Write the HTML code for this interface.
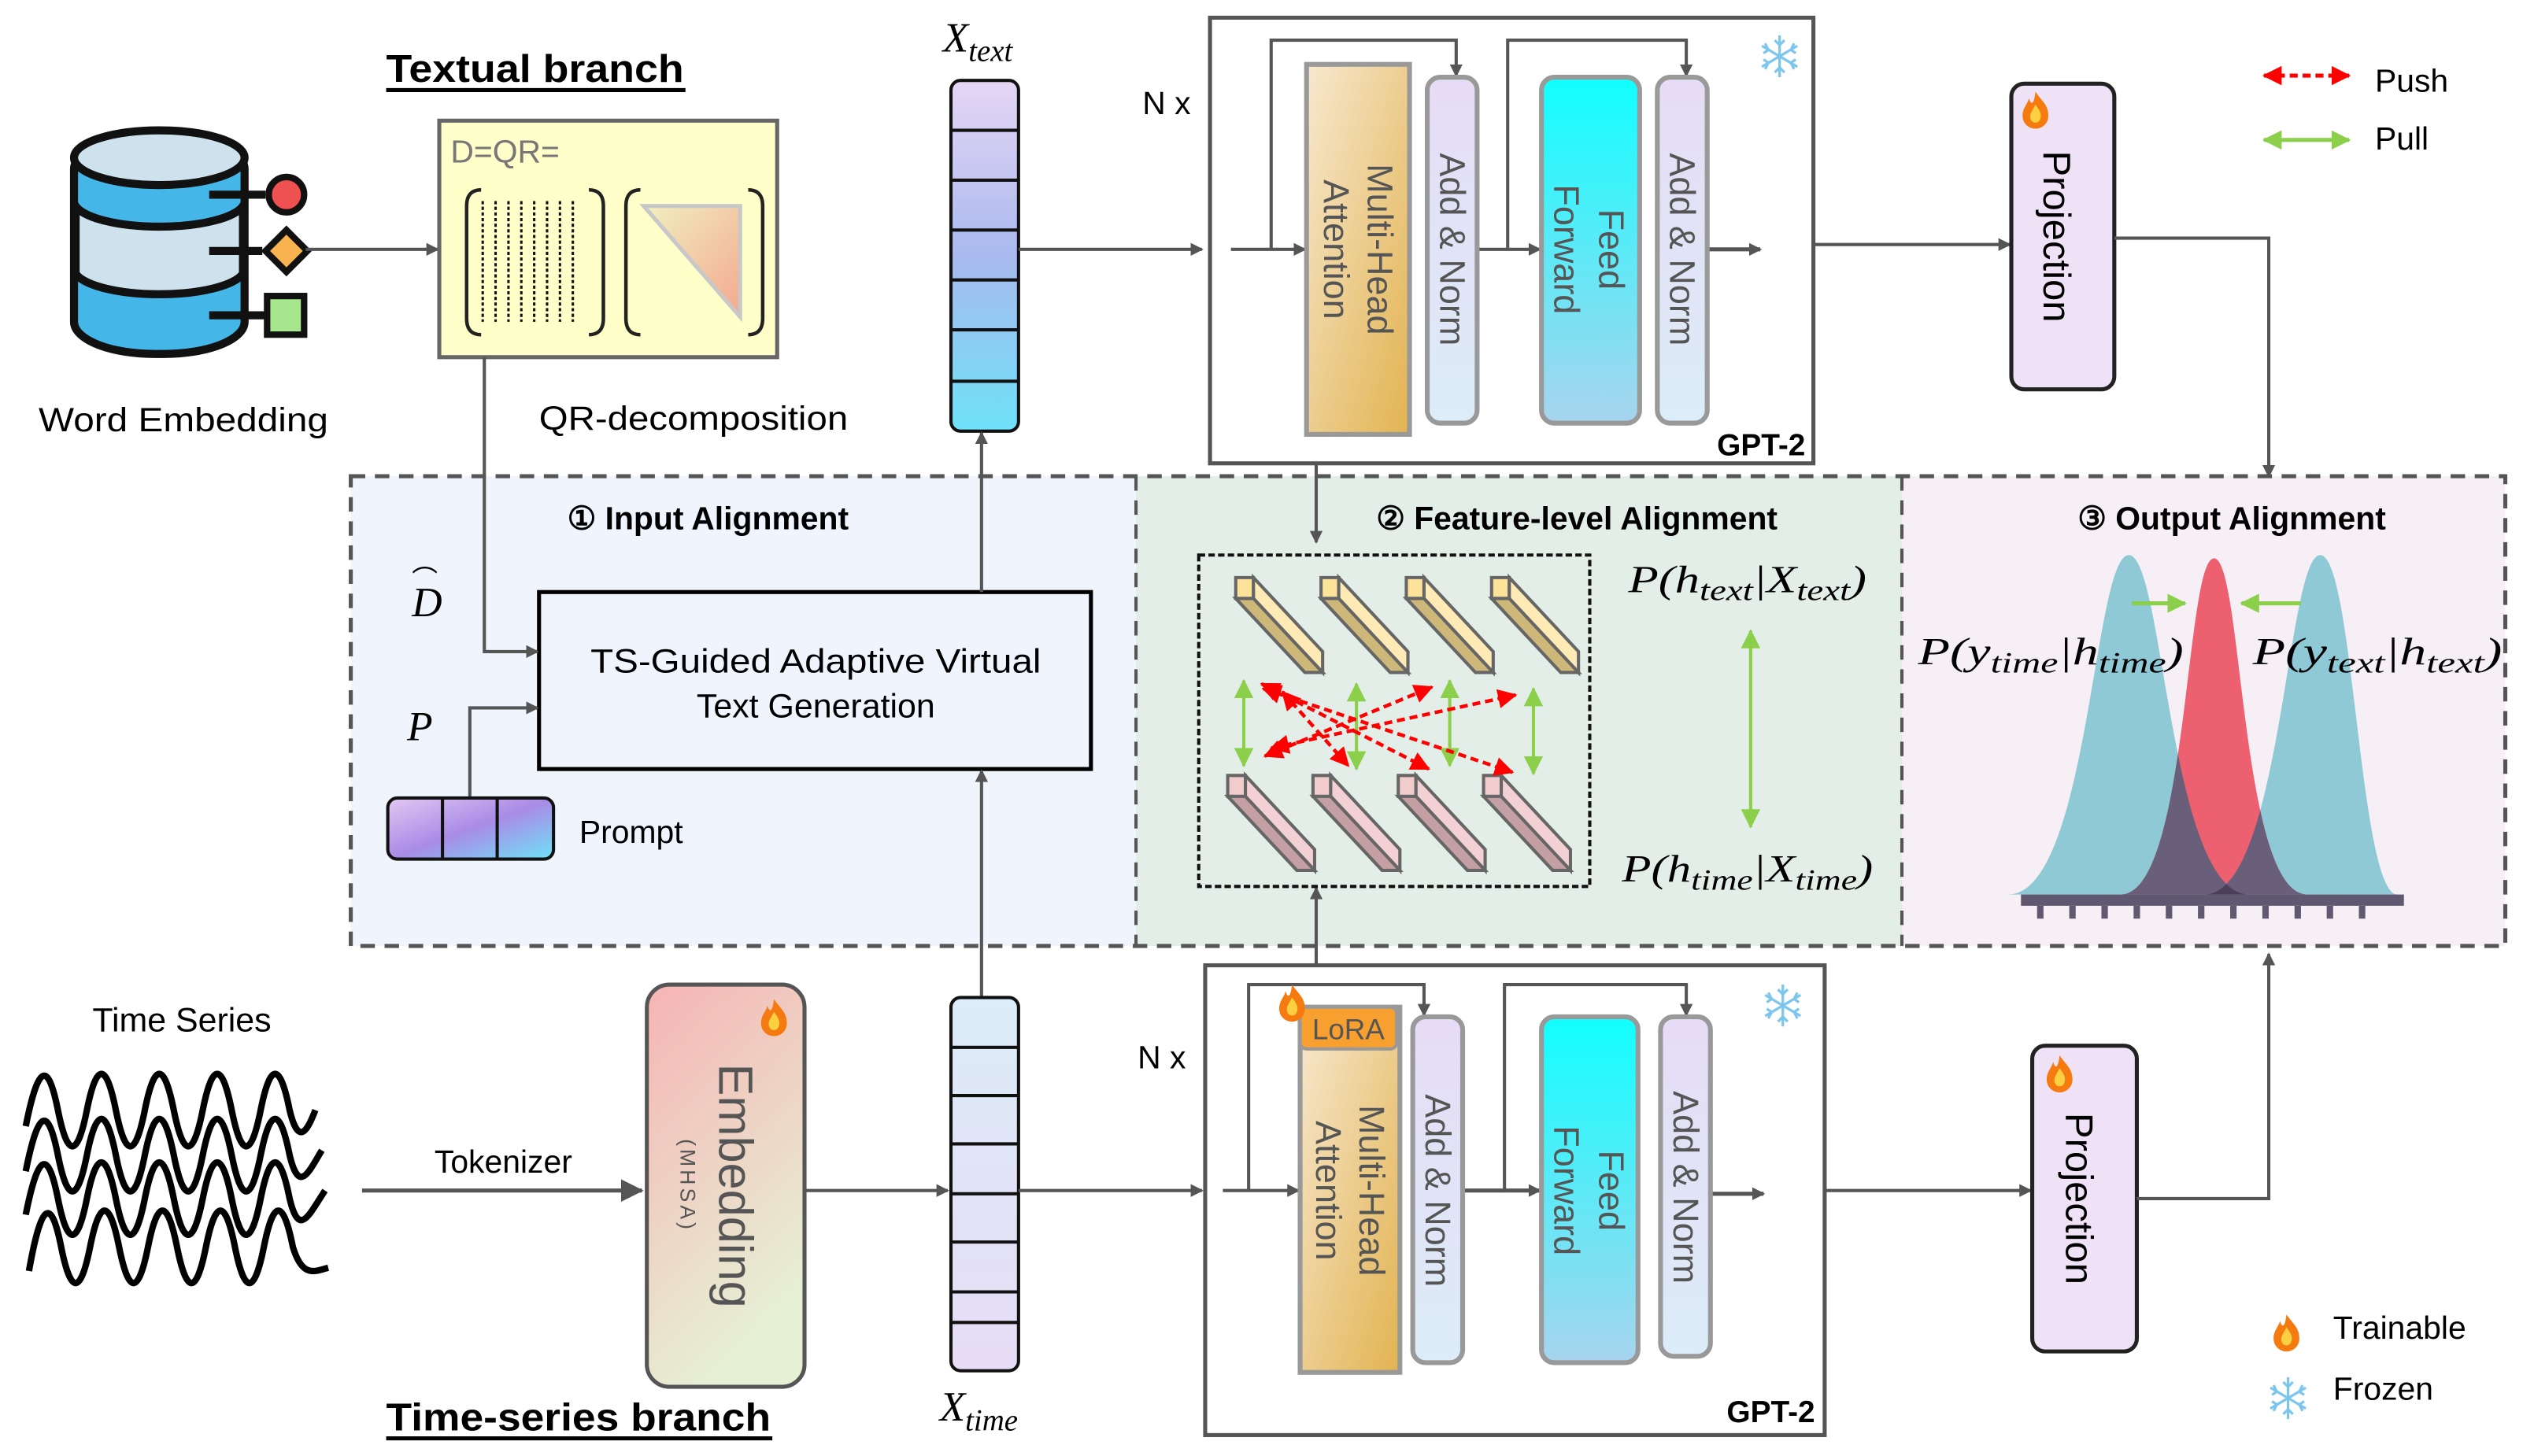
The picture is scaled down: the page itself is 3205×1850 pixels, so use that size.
<!DOCTYPE html>
<html><head><meta charset="utf-8"><style>
html,body{margin:0;padding:0;background:#fff;}
svg{display:block;}
text{font-family:"Liberation Sans",sans-serif;}
.m{font-family:"Liberation Serif",serif;font-style:italic;}
</style></head><body>
<svg width="3205" height="1850" viewBox="0 0 1568 905" preserveAspectRatio="none" xmlns="http://www.w3.org/2000/svg">
<defs>
<marker id="a" markerWidth="8" markerHeight="8" refX="7" refY="4" orient="auto" markerUnits="userSpaceOnUse"><path d="M0,0 L8,4 L0,8 Z" fill="#555"/></marker>
<marker id="ab" markerWidth="14" markerHeight="14" refX="13" refY="7" orient="auto" markerUnits="userSpaceOnUse"><path d="M0,0 L14,7 L0,14 Z" fill="#555"/></marker>
<marker id="g" markerWidth="12" markerHeight="12" refX="11" refY="6" orient="auto-start-reverse" markerUnits="userSpaceOnUse"><path d="M0,0 L12,6 L0,12 Z" fill="#8ccf4a"/></marker>
<marker id="r" markerWidth="12" markerHeight="12" refX="11" refY="6" orient="auto-start-reverse" markerUnits="userSpaceOnUse"><path d="M0,0 L12,6 L0,12 Z" fill="#f00"/></marker>
<linearGradient id="vt" x1="0" y1="0" x2="0" y2="1"><stop offset="0" stop-color="#e6d6f5"/><stop offset="0.5" stop-color="#a9b9ee"/><stop offset="1" stop-color="#6ee2f8"/></linearGradient>
<linearGradient id="vb" x1="0" y1="0" x2="0" y2="1"><stop offset="0" stop-color="#dcecf8"/><stop offset="1" stop-color="#e6dcf5"/></linearGradient>
<linearGradient id="mha" x1="0" y1="0" x2="1" y2="1"><stop offset="0" stop-color="#f7e8cf"/><stop offset="1" stop-color="#e2b350"/></linearGradient>
<linearGradient id="an" x1="0" y1="0" x2="0" y2="1"><stop offset="0" stop-color="#e6dcf5"/><stop offset="1" stop-color="#dcecf8"/></linearGradient>
<linearGradient id="ff" x1="0" y1="0" x2="0" y2="1"><stop offset="0" stop-color="#10ffff"/><stop offset="1" stop-color="#a8d4ee"/></linearGradient>
<linearGradient id="emb" x1="0" y1="0" x2="0.4" y2="1"><stop offset="0" stop-color="#f6b4b4"/><stop offset="1" stop-color="#e6f0d4"/></linearGradient>
<linearGradient id="pr" x1="0" y1="0" x2="1" y2="1"><stop offset="0" stop-color="#e2c8f2"/><stop offset="0.5" stop-color="#a98be6"/><stop offset="1" stop-color="#6ee2f8"/></linearGradient>
<linearGradient id="tri" x1="0" y1="0" x2="1" y2="1"><stop offset="0" stop-color="#f0f0c0"/><stop offset="1" stop-color="#f4a890"/></linearGradient>
<path id="gl" d="M1248,556 C1298,556 1301,345 1323,345 C1345,345 1348,556 1398,556Z"/>
<path id="gr" d="M1370,556 C1418,556 1421,345 1442,345 C1463,345 1466,556 1490,556Z"/>
<path id="gm" d="M1318,556 C1360,556 1358,347 1376,347 C1394,347 1392,556 1434,556Z"/>
<clipPath id="cl"><use href="#gl"/></clipPath>
<clipPath id="cr"><use href="#gr"/></clipPath>
<g id="fire"><path d="M0,-12 C4,-6 8,-4 8,3 C8,8 4,11 0,11 C-4,11 -8,8 -8,3 C-8,-2 -5,-4 -4,-8 C-3,-4 -1,-3 0,-12 Z" fill="#f57a10"/><path d="M0,-4 C3,0 4,2 3,5 C2,8 -2,8 -3,5 C-4,2 -2,0 0,-4Z" fill="#fcd040"/></g>
<g id="snow" stroke="#7cc6ee" stroke-width="1.6" fill="none"><line x1="0" y1="-13" x2="0" y2="13"/><line x1="-11" y1="-6.5" x2="11" y2="6.5"/><line x1="-11" y1="6.5" x2="11" y2="-6.5"/><path d="M-3,-10 L0,-7 L3,-10 M-3,10 L0,7 L3,10 M-10,-2 L-7,-4 L-9,-8 M10,2 L7,4 L9,8 M10,-2 L7,-4 L9,-8 M-10,2 L-7,4 L-9,8"/></g>
</defs>

<!-- panels -->
<rect x="218" y="296" width="488" height="292" fill="#eff4fd"/>
<rect x="706" y="296" width="476" height="292" fill="#e2eee7"/>
<rect x="1182" y="296" width="375" height="292" fill="#f6f0f6"/>
<rect x="218" y="296" width="1339" height="292" fill="none" stroke="#555" stroke-width="2.5" stroke-dasharray="9,6"/>
<line x1="706" y1="296" x2="706" y2="588" stroke="#555" stroke-width="2" stroke-dasharray="9,6"/>
<line x1="1182" y1="296" x2="1182" y2="588" stroke="#555" stroke-width="2" stroke-dasharray="9,6"/>

<!-- Textual branch -->
<text x="240" y="51" font-size="24" font-weight="bold" textLength="185" lengthAdjust="spacingAndGlyphs">Textual branch</text>
<line x1="240" y1="56" x2="426" y2="56" stroke="#000" stroke-width="2.5"/>
<g stroke="#111" stroke-width="5">
<rect x="46" y="85" width="106" height="135" rx="50" ry="20" fill="#44b7e8"/>
<path d="M47,128 A53,16 0 0 0 151,128 V170 A53,16 0 0 1 47,170Z" fill="#cde2ec"/>
<ellipse cx="99" cy="98" rx="53" ry="17" fill="#cde2ec"/>
<line x1="130" y1="121" x2="165" y2="121"/><line x1="130" y1="156" x2="163" y2="156"/><line x1="130" y1="196" x2="165" y2="196"/>
</g>
<circle cx="178" cy="121" r="11" fill="#ef5050" stroke="#111" stroke-width="4"/>
<path d="M178,143 L191,156 L178,169 L165,156Z" fill="#f8b250" stroke="#111" stroke-width="4"/>
<rect x="166" y="184" width="23" height="24" fill="#a6e68c" stroke="#111" stroke-width="4"/>
<text x="114" y="268" font-size="21" text-anchor="middle" textLength="180" lengthAdjust="spacingAndGlyphs">Word Embedding</text>
<line x1="190" y1="155" x2="272" y2="155" stroke="#555" stroke-width="2" marker-end="url(#a)"/>
<rect x="273" y="75" width="210" height="147" fill="#ffffca" stroke="#666" stroke-width="2.5"/>
<text x="280" y="101" font-size="20" fill="#777">D=QR=</text>
<g stroke="#222" stroke-width="2.2" fill="none">
<path d="M299,118 Q290,118 290,128 V198 Q290,208 299,208"/><path d="M366,118 Q375,118 375,128 V198 Q375,208 366,208"/>
<path d="M398,118 Q389,118 389,128 V198 Q389,208 398,208"/><path d="M465,118 Q474,118 474,128 V198 Q474,208 465,208"/>
</g>
<g stroke="#111" stroke-width="1.5" stroke-dasharray="2,1.5"><line x1="300" y1="125" x2="300" y2="200"/><line x1="308" y1="125" x2="308" y2="200"/><line x1="316" y1="125" x2="316" y2="200"/><line x1="324" y1="125" x2="324" y2="200"/><line x1="332" y1="125" x2="332" y2="200"/><line x1="340" y1="125" x2="340" y2="200"/><line x1="348" y1="125" x2="348" y2="200"/><line x1="356" y1="125" x2="356" y2="200"/></g>
<path d="M400,128 L460,128 L460,197 Z" fill="url(#tri)" stroke="#c8c8c8" stroke-width="2.5"/>
<text x="431" y="267" font-size="21" text-anchor="middle" textLength="192" lengthAdjust="spacingAndGlyphs">QR-decomposition</text>

<text x="586" y="32" class="m" font-size="26">X<tspan font-size="19" dy="6">text</tspan></text>
<rect x="591" y="50" width="42" height="218" rx="6" fill="url(#vt)" stroke="#111" stroke-width="2"/>
<g stroke="#111" stroke-width="2"><line x1="591" y1="81" x2="633" y2="81"/><line x1="591" y1="112" x2="633" y2="112"/><line x1="591" y1="143" x2="633" y2="143"/><line x1="591" y1="174" x2="633" y2="174"/><line x1="591" y1="205" x2="633" y2="205"/><line x1="591" y1="237" x2="633" y2="237"/></g>
<line x1="633" y1="155" x2="747" y2="155" stroke="#555" stroke-width="2" marker-end="url(#a)"/>
<text x="710" y="71" font-size="20">N x</text>

<!-- GPT top -->
<rect x="752" y="11" width="375" height="277" fill="#fff" stroke="#555" stroke-width="2.5"/>
<path d="M765,155 H811" stroke="#555" stroke-width="2" fill="none" marker-end="url(#a)"/>
<path d="M790,155 V25 H905 V47" stroke="#555" stroke-width="2" fill="none" marker-end="url(#a)"/>
<path d="M918,155 H957" stroke="#555" stroke-width="2" fill="none" marker-end="url(#a)"/>
<path d="M937,155 V25 H1048 V47" stroke="#555" stroke-width="2" fill="none" marker-end="url(#a)"/>
<path d="M1061,155 H1094" stroke="#555" stroke-width="2.5" fill="none" marker-end="url(#a)"/>
<rect x="812" y="40" width="64" height="230" fill="url(#mha)" stroke="#999" stroke-width="3"/>
<rect x="887" y="48" width="31" height="215" rx="8" fill="url(#an)" stroke="#999" stroke-width="3"/>
<rect x="958" y="48" width="61" height="215" rx="8" fill="url(#ff)" stroke="#999" stroke-width="3"/>
<rect x="1030" y="48" width="31" height="215" rx="8" fill="url(#an)" stroke="#999" stroke-width="3"/>
<g font-size="22" fill="#555">
<text transform="translate(850,155) rotate(90)" text-anchor="middle">Multi-Head</text>
<text transform="translate(823,155) rotate(90)" text-anchor="middle">Attention</text>
<text transform="translate(895,155) rotate(90)" text-anchor="middle">Add &amp; Norm</text>
<text transform="translate(994,155) rotate(90)" text-anchor="middle">Feed</text>
<text transform="translate(966,155) rotate(90)" text-anchor="middle">Forward</text>
<text transform="translate(1038,155) rotate(90)" text-anchor="middle">Add &amp; Norm</text>
</g>
<use href="#snow" x="1106" y="35"/>
<text x="1122" y="283" font-size="19" font-weight="bold" text-anchor="end">GPT-2</text>
<line x1="1127" y1="152" x2="1249" y2="152" stroke="#555" stroke-width="2" marker-end="url(#a)"/>
<rect x="1250" y="52" width="64" height="190" rx="8" fill="#f0e2f6" stroke="#222" stroke-width="2.5"/>
<text transform="translate(1270,147) rotate(90)" font-size="24" text-anchor="middle">Projection</text>
<use href="#fire" x="1265" y="69"/>
<path d="M1314,148 H1410 V296" stroke="#555" stroke-width="2" fill="none" marker-end="url(#a)"/>

<line x1="1407" y1="47" x2="1460" y2="47" stroke="#f00" stroke-width="2.5" stroke-dasharray="5,3" marker-start="url(#r)" marker-end="url(#r)"/>
<text x="1476" y="57" font-size="20">Push</text>
<line x1="1407" y1="87" x2="1460" y2="87" stroke="#8ccf4a" stroke-width="2.5" marker-start="url(#g)" marker-end="url(#g)"/>
<text x="1476" y="93" font-size="20">Pull</text>

<!-- Input alignment -->
<text x="440" y="329" font-size="20" font-weight="bold" text-anchor="middle">① Input Alignment</text>
<text x="256" y="383" class="m" font-size="26">D</text><text x="256" y="366" font-size="16">⌒</text>
<text x="253" y="460" class="m" font-size="26">P</text>
<rect x="335" y="368" width="343" height="110" fill="none" stroke="#000" stroke-width="2.5"/>
<text x="507" y="418" font-size="21" text-anchor="middle" textLength="280" lengthAdjust="spacingAndGlyphs">TS-Guided Adaptive Virtual</text>
<text x="507" y="446" font-size="21" text-anchor="middle">Text Generation</text>
<path d="M301,222 V405 H334" stroke="#555" stroke-width="2" fill="none" marker-end="url(#a)"/>
<path d="M292,496 V440 H334" stroke="#555" stroke-width="2" fill="none" marker-end="url(#a)"/>
<rect x="241" y="496" width="103" height="38" rx="6" fill="url(#pr)" stroke="#111" stroke-width="2"/>
<line x1="275" y1="496" x2="275" y2="534" stroke="#111" stroke-width="2"/><line x1="309" y1="496" x2="309" y2="534" stroke="#111" stroke-width="2"/>
<text x="360" y="524" font-size="20">Prompt</text>
<line x1="610" y1="368" x2="610" y2="269" stroke="#555" stroke-width="2" marker-end="url(#a)"/>
<line x1="610" y1="620" x2="610" y2="479" stroke="#555" stroke-width="2" marker-end="url(#a)"/>

<!-- Feature-level -->
<text x="980" y="329" font-size="20" font-weight="bold" text-anchor="middle">② Feature-level Alignment</text>
<line x1="818" y1="288" x2="818" y2="337" stroke="#555" stroke-width="2" marker-end="url(#a)"/>
<line x1="818" y1="600" x2="818" y2="552" stroke="#555" stroke-width="2" marker-end="url(#a)"/>
<rect x="745" y="345" width="243" height="206" fill="none" stroke="#111" stroke-width="2" stroke-dasharray="4,2"/>
<g stroke="#666" stroke-width="2">
<g id="yb"><path d="M768,359 L779,359 L779,372 L768,372Z" fill="#fde39a"/><path d="M779,359 L822,405 L822,418 L779,372Z" fill="#fdeab4"/><path d="M768,372 L779,372 L822,418 L811,418Z" fill="#cdb87a"/></g>
<use href="#yb" x="53"/><use href="#yb" x="106"/><use href="#yb" x="159"/>
<g id="pb"><path d="M763,482 L774,482 L774,495 L763,495Z" fill="#f2cccc"/><path d="M774,482 L817,528 L817,541 L774,495Z" fill="#f2d0d4"/><path d="M763,495 L774,495 L817,541 L806,541Z" fill="#c4a0a4"/></g>
<use href="#pb" x="53"/><use href="#pb" x="106"/><use href="#pb" x="159"/>
</g>
<g stroke="#8ccf4a" stroke-width="2"><line x1="773" y1="423" x2="773" y2="476" marker-start="url(#g)" marker-end="url(#g)"/><line x1="843" y1="425" x2="843" y2="478" marker-start="url(#g)" marker-end="url(#g)"/><line x1="901" y1="423" x2="901" y2="476" marker-start="url(#g)" marker-end="url(#g)"/><line x1="953" y1="428" x2="953" y2="481" marker-start="url(#g)" marker-end="url(#g)"/></g>
<g stroke="#f00" stroke-width="2.2" stroke-dasharray="5,3"><line x1="784" y1="425" x2="888" y2="478" marker-start="url(#r)" marker-end="url(#r)"/><line x1="797" y1="430" x2="838" y2="476" marker-start="url(#r)" marker-end="url(#r)"/><line x1="786" y1="470" x2="890" y2="427" marker-start="url(#r)" marker-end="url(#r)"/><line x1="790" y1="465" x2="942" y2="432" marker-start="url(#r)" marker-end="url(#r)"/><line x1="785" y1="428" x2="940" y2="480" marker-start="url(#r)" marker-end="url(#r)"/></g>
<text x="1012" y="368" class="m" font-size="24" textLength="148" lengthAdjust="spacingAndGlyphs">P(h<tspan font-size="18" dy="5">text</tspan><tspan dy="-5">|X</tspan><tspan font-size="18" dy="5">text</tspan><tspan dy="-5">)</tspan></text>
<line x1="1088" y1="392" x2="1088" y2="514" stroke="#8ccf4a" stroke-width="2" marker-start="url(#g)" marker-end="url(#g)"/>
<text x="1008" y="548" class="m" font-size="24" textLength="156" lengthAdjust="spacingAndGlyphs">P(h<tspan font-size="18" dy="5">time</tspan><tspan dy="-5">|X</tspan><tspan font-size="18" dy="5">time</tspan><tspan dy="-5">)</tspan></text>

<!-- Output alignment -->
<text x="1387" y="329" font-size="20" font-weight="bold" text-anchor="middle">③ Output Alignment</text>
<use href="#gl" fill="#8fc9d6"/>
<use href="#gr" fill="#8fc9d6"/>
<g clip-path="url(#cl)"><use href="#gr" fill="#3f95b4"/></g>
<use href="#gm" fill="#ec6070"/>
<g clip-path="url(#cl)"><use href="#gm" fill="#6a5f7a"/></g>
<g clip-path="url(#cr)"><use href="#gm" fill="#6a5f7a"/></g>
<g clip-path="url(#cr)"><g clip-path="url(#cl)"><use href="#gm" fill="#4a3f58"/></g></g>
<rect x="1256" y="556" width="238" height="7" fill="#605870"/>
<g fill="#605870"><rect x="1266" y="563" width="4" height="8"/><rect x="1286" y="563" width="4" height="8"/><rect x="1306" y="563" width="4" height="8"/><rect x="1326" y="563" width="4" height="8"/><rect x="1346" y="563" width="4" height="8"/><rect x="1366" y="563" width="4" height="8"/><rect x="1386" y="563" width="4" height="8"/><rect x="1406" y="563" width="4" height="8"/><rect x="1426" y="563" width="4" height="8"/><rect x="1446" y="563" width="4" height="8"/><rect x="1466" y="563" width="4" height="8"/></g>
<line x1="1325" y1="375" x2="1358" y2="375" stroke="#8ccf4a" stroke-width="2.5" marker-end="url(#g)"/>
<line x1="1430" y1="375" x2="1393" y2="375" stroke="#8ccf4a" stroke-width="2.5" marker-end="url(#g)"/>
<text x="1192" y="413" class="m" font-size="24" textLength="165" lengthAdjust="spacingAndGlyphs">P(y<tspan font-size="18" dy="5">time</tspan><tspan dy="-5">|h</tspan><tspan font-size="18" dy="5">time</tspan><tspan dy="-5">)</tspan></text>
<text x="1400" y="413" class="m" font-size="24" textLength="155" lengthAdjust="spacingAndGlyphs">P(y<tspan font-size="18" dy="5">text</tspan><tspan dy="-5">|h</tspan><tspan font-size="18" dy="5">text</tspan><tspan dy="-5">)</tspan></text>

<!-- Time series branch -->
<text x="113" y="641" font-size="21" text-anchor="middle">Time Series</text>
<g fill="none" stroke="#000" stroke-width="4">
<path d="M16,700 C24,660 30,660 36,690 C42,720 48,720 54,690 C60,660 66,660 72,690 C78,720 84,720 90,690 C96,660 102,660 108,690 C114,720 120,720 126,690 C132,660 138,660 144,690 C150,720 156,720 162,690 C168,660 174,660 180,690 C186,715 192,700 196,690"/>
<path d="M16,728 C24,688 30,688 36,718 C42,748 48,748 54,718 C60,688 66,688 72,718 C78,748 84,748 90,718 C96,688 102,688 108,718 C114,748 120,748 126,718 C132,688 138,688 144,718 C150,748 156,748 162,718 C168,688 174,688 180,718 C186,743 192,728 200,715"/>
<path d="M16,755 C24,715 30,715 36,745 C42,775 48,775 54,745 C60,715 66,715 72,745 C78,775 84,775 90,745 C96,715 102,715 108,745 C114,775 120,775 126,745 C132,715 138,715 144,745 C150,775 156,775 162,745 C168,715 174,715 180,745 C186,770 192,755 202,740"/>
<path d="M18,790 C26,745 32,745 38,775 C44,805 50,805 56,775 C62,745 68,745 74,775 C80,805 86,805 92,775 C98,745 104,745 110,775 C116,805 122,805 128,775 C134,745 140,745 146,775 C152,805 158,805 164,775 C170,745 176,745 182,775 C188,795 196,790 204,788"/>
</g>
<text x="270" y="729" font-size="20">Tokenizer</text>
<line x1="225" y1="740" x2="399" y2="740" stroke="#555" stroke-width="2.5" marker-end="url(#ab)"/>
<rect x="402" y="612" width="98" height="250" rx="14" fill="url(#emb)" stroke="#555" stroke-width="2.5"/>
<text transform="translate(447,737) rotate(90)" font-size="30" fill="#555" text-anchor="middle">Embedding</text>
<text transform="translate(423,737) rotate(90)" font-size="13" fill="#555" text-anchor="middle" letter-spacing="2">(MHSA)</text>
<use href="#fire" x="481" y="633"/>
<line x1="500" y1="740" x2="589" y2="740" stroke="#555" stroke-width="2" marker-end="url(#a)"/>
<rect x="591" y="620" width="42" height="232" rx="6" fill="url(#vb)" stroke="#111" stroke-width="2"/>
<g stroke="#111" stroke-width="2"><line x1="591" y1="651" x2="633" y2="651"/><line x1="591" y1="681" x2="633" y2="681"/><line x1="591" y1="711" x2="633" y2="711"/><line x1="591" y1="742" x2="633" y2="742"/><line x1="591" y1="772" x2="633" y2="772"/><line x1="591" y1="803" x2="633" y2="803"/><line x1="591" y1="822" x2="633" y2="822"/></g>
<text x="584" y="883" class="m" font-size="26">X<tspan font-size="19" dy="6">time</tspan></text>
<text x="240" y="889" font-size="24" font-weight="bold" textLength="239" lengthAdjust="spacingAndGlyphs">Time-series branch</text>
<line x1="240" y1="894" x2="480" y2="894" stroke="#000" stroke-width="2.5"/>
<line x1="633" y1="740" x2="747" y2="740" stroke="#555" stroke-width="2" marker-end="url(#a)"/>
<text x="707" y="664" font-size="20">N x</text>

<!-- GPT bottom -->
<rect x="749" y="600" width="385" height="292" fill="#fff" stroke="#555" stroke-width="2.5"/>
<path d="M760,740 H807" stroke="#555" stroke-width="2" fill="none" marker-end="url(#a)"/>
<path d="M776,740 V612 H885 V631" stroke="#555" stroke-width="2" fill="none" marker-end="url(#a)"/>
<path d="M909,740 H957" stroke="#555" stroke-width="2.5" fill="none" marker-end="url(#a)"/>
<path d="M935,740 V612 H1048 V631" stroke="#555" stroke-width="2" fill="none" marker-end="url(#a)"/>
<path d="M1063,742 H1096" stroke="#555" stroke-width="2.5" fill="none" marker-end="url(#a)"/>
<rect x="808" y="626" width="62" height="227" fill="url(#mha)" stroke="#999" stroke-width="3"/>
<rect x="808" y="626" width="60" height="26" rx="4" fill="#f7a030" stroke="#999" stroke-width="2"/>
<text x="838" y="646" font-size="18" fill="#555" text-anchor="middle">LoRA</text>
<rect x="878" y="632" width="31" height="215" rx="8" fill="url(#an)" stroke="#999" stroke-width="3"/>
<rect x="958" y="632" width="60" height="215" rx="8" fill="url(#ff)" stroke="#999" stroke-width="3"/>
<rect x="1032" y="632" width="31" height="211" rx="8" fill="url(#an)" stroke="#999" stroke-width="3"/>
<g font-size="22" fill="#555">
<text transform="translate(845,740) rotate(90)" text-anchor="middle">Multi-Head</text>
<text transform="translate(818,740) rotate(90)" text-anchor="middle">Attention</text>
<text transform="translate(886,740) rotate(90)" text-anchor="middle">Add &amp; Norm</text>
<text transform="translate(994,740) rotate(90)" text-anchor="middle">Feed</text>
<text transform="translate(966,740) rotate(90)" text-anchor="middle">Forward</text>
<text transform="translate(1040,738) rotate(90)" text-anchor="middle">Add &amp; Norm</text>
</g>
<use href="#fire" x="803" y="624"/>
<use href="#snow" x="1108" y="625"/>
<text x="1128" y="884" font-size="19" font-weight="bold" text-anchor="end">GPT-2</text>
<line x1="1134" y1="740" x2="1262" y2="740" stroke="#555" stroke-width="2" marker-end="url(#a)"/>
<rect x="1263" y="650" width="65" height="190" rx="8" fill="#f0e2f6" stroke="#222" stroke-width="2.5"/>
<text transform="translate(1284,745) rotate(90)" font-size="24" text-anchor="middle">Projection</text>
<use href="#fire" x="1280" y="668"/>
<path d="M1328,745 H1410 V593" stroke="#555" stroke-width="2" fill="none" marker-end="url(#a)"/>
<use href="#fire" x="1421" y="829"/>
<text x="1450" y="832" font-size="20">Trainable</text>
<use href="#snow" x="1422" y="869"/>
<text x="1450" y="870" font-size="20">Frozen</text>
</svg>
</body></html>
